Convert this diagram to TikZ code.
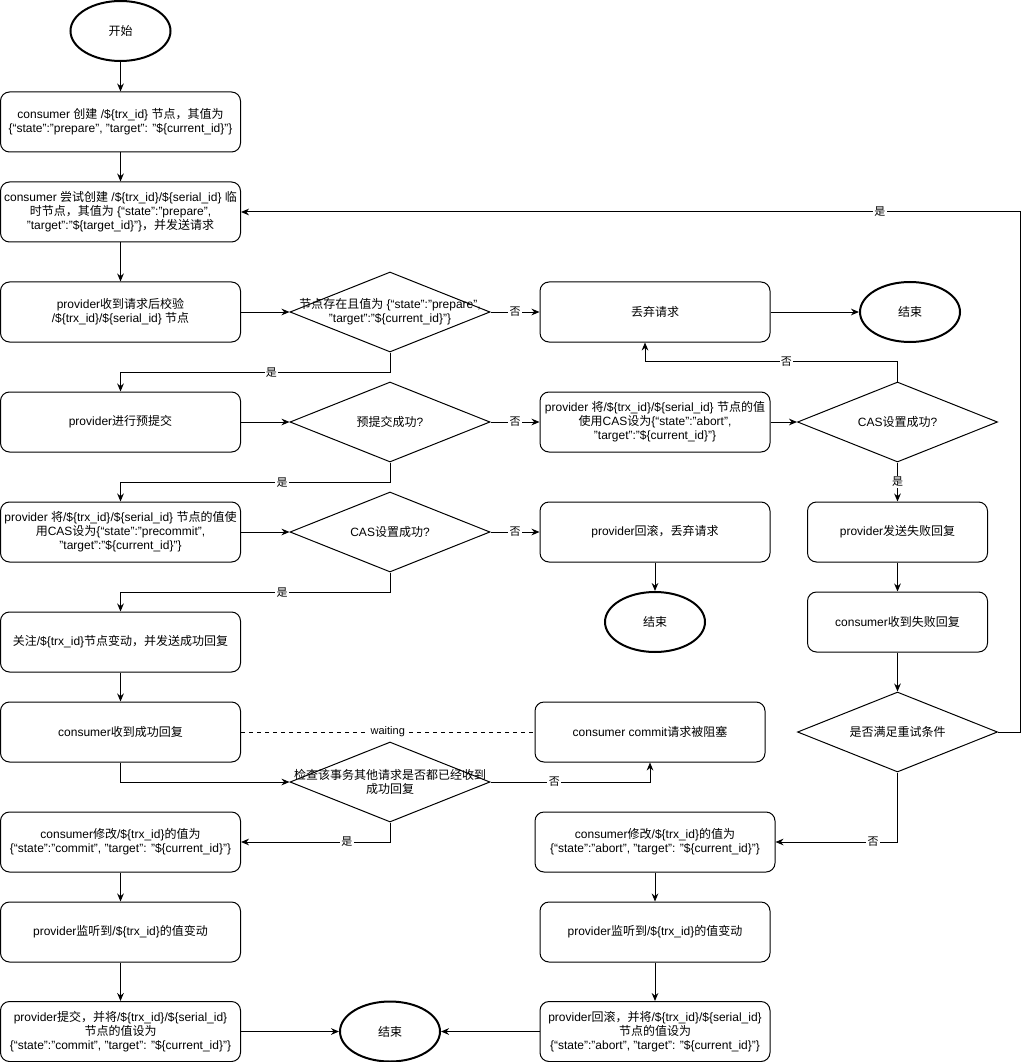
\documentclass[tikz,border=0pt]{standalone}
\usepackage{fontspec}
\setmainfont{Liberation Sans}
\newfontfamily\cjk{Noto Sans CJK SC}
\usetikzlibrary{shapes.geometric,arrows.meta}
\newcommand{\tvar}[1]{\$\{#1\}}
% CJK characters switch to the CJK font
\XeTeXinterchartokenstate=1
\newXeTeXintercharclass\cjkcls
\count255="4E00
\loop\XeTeXcharclass\count255=\cjkcls\ifnum\count255<"9FFF\advance\count255 by 1\repeat
\count255="3000
\loop\XeTeXcharclass\count255=\cjkcls\ifnum\count255<"303F\advance\count255 by 1\repeat
\count255="FF00
\loop\XeTeXcharclass\count255=\cjkcls\ifnum\count255<"FFEF\advance\count255 by 1\repeat
\XeTeXinterchartoks 0 \cjkcls={\cjk}
\XeTeXinterchartoks 4095 \cjkcls={\cjk}
\XeTeXinterchartoks \cjkcls 0={\normalfont}
\XeTeXinterchartoks \cjkcls 4095={\normalfont}

\begin{document}
\begin{tikzpicture}[x=0.75pt,y=-0.75pt,
  font=\fontsize{9}{10.5}\selectfont,
  box/.style={draw,line width=0.75pt,rounded corners=6.75pt,minimum width=180pt,minimum height=45pt,align=center,inner sep=1pt},
  term/.style={draw,ellipse,line width=1.5pt,minimum width=75pt,minimum height=45pt},
  decision/.style={draw,diamond,line width=0.75pt,minimum width=150pt,minimum height=60pt,inner sep=0pt},
  lbl/.style={fill=white,inner sep=1pt,font=\fontsize{8.25}{9}\selectfont},
  arr/.style={draw,line width=0.75pt,-{Stealth[length=6pt,width=5pt]}}]
  \useasboundingbox (0,0) rectangle (1029,1062);
  % left column
  \node[term] (start) at (120.5,31) {开始};
  \node[box] (b1) at (120.5,122) {consumer 创建 /\tvar{trx\_id} 节点，其值为\\\{“state":"prepare", "target": "\tvar{current\_id}"\}};
  \node[box] (b2) at (120.5,212) {consumer 尝试创建 /\tvar{trx\_id}/\tvar{serial\_id} 临\\时节点，其值为 \{“state":"prepare",\\"target":"\tvar{target\_id}"\}，并发送请求};
  \node[box] (b3) at (120.5,312) {provider收到请求后校验\\/\tvar{trx\_id}/\tvar{serial\_id} 节点};
  \node[box] (b4) at (120.5,422) {provider进行预提交};
  \node[box] (b6) at (120.5,532) {provider 将/\tvar{trx\_id}/\tvar{serial\_id} 节点的值使\\用CAS设为\{“state":"precommit",\\"target":"\tvar{current\_id}"\}};
  \node[box] (b8) at (120.5,642) {关注/\tvar{trx\_id}节点变动，并发送成功回复};
  \node[box] (b9) at (120.5,732) {consumer收到成功回复};
  \node[box] (b10) at (120.5,842) {consumer修改/\tvar{trx\_id}的值为\\\{“state":"commit", "target": "\tvar{current\_id}"\}};
  \node[box] (b11) at (120.5,932) {provider监听到/\tvar{trx\_id}的值变动};
  \node[box] (b12) at (120.5,1031.5) {provider提交，并将/\tvar{trx\_id}/\tvar{serial\_id}\\节点的值设为\\\{“state":"commit", "target": "\tvar{current\_id}"\}};
  % decisions
  \node[decision] (d1) at (390,312) {};
  \node[align=center] (d1t) at (d1) {节点存在且值为 \{“state":"prepare",\\"target":"\tvar{current\_id}"\}};
  \node[decision] (d2) at (390,422) {};
  \node (d2t) at (d2) {预提交成功?};
  \node[decision] (d5) at (390,532) {};
  \node (d5t) at (d5) {CAS设置成功?};
  \node[decision] (d6) at (390,782) {};
  \node[align=center] (d6t) at (d6) {检查该事务其他请求是否都已经收到\\成功回复};
  \node[term] (end2) at (390,1031.5) {结束};
  % middle column
  \node[box,minimum width=172.5pt] (drop) at (655,312) {丢弃请求};
  \node[box,minimum width=172.5pt] (b5) at (655,422) {provider 将/\tvar{trx\_id}/\tvar{serial\_id} 节点的值\\使用CAS设为\{“state":"abort",\\"target":"\tvar{current\_id}"\}};
  \node[box,minimum width=172.5pt] (b7) at (655,532) {provider回滚，丢弃请求};
  \node[term] (end3) at (655,622) {结束};
  \node[box,minimum width=172.5pt] (blk) at (650,732) {consumer commit请求被阻塞};
  \node[box] (rb10) at (655,842) {consumer修改/\tvar{trx\_id}的值为\\\{“state":"abort", "target": "\tvar{current\_id}"\}};
  \node[box,minimum width=172.5pt] (rb11) at (655,932) {provider监听到/\tvar{trx\_id}的值变动};
  \node[box,minimum width=172.5pt] (rb12) at (655,1031.5) {provider回滚，并将/\tvar{trx\_id}/\tvar{serial\_id}\\节点的值设为\\\{“state":"abort", "target": "\tvar{current\_id}"\}};
  % right column
  \node[term] (end1) at (910,312) {结束};
  \node[decision] (d3) at (897.5,422) {};
  \node (d3t) at (d3) {CAS设置成功?};
  \node[box,minimum width=135pt] (f1) at (897.5,532) {provider发送失败回复};
  \node[box,minimum width=135pt] (f2) at (897.5,622) {consumer收到失败回复};
  \node[decision] (d4) at (897.5,732) {};
  \node (d4t) at (d4) {是否满足重试条件};
  % straight arrows
  \foreach \a/\b in {start/b1,b1/b2,b2/b3,b8/b9,b10/b11,b11/b12,rb10/rb11,rb11/rb12,b7/end3,f1/f2,f2/d4,
                     b3/d1,b4/d2,b6/d5,b5/d3,drop/end1,b12/end2,rb12/end2}
    \draw[arr] (\a) -- (\b);
  \foreach \a/\b in {d1/drop,d2/b5,d5/b7}
    \draw[arr] (\a) -- node[lbl]{否} (\b);
  \draw[arr] (d3) -- node[lbl]{是} (f1);
  % elbow arrows
  \draw[arr] (d1.south) -- ++(0,20) -| node[lbl,pos=0.22]{是} (b4.north);
  \draw[arr] (d2.south) -- ++(0,20) -| node[lbl,pos=0.2]{是} (b6.north);
  \draw[arr] (d5.south) -- ++(0,20) -| node[lbl,pos=0.2]{是} (b8.north);
  \draw[arr] (d3.north) -- ++(0,-20) -| node[lbl,pos=0.22]{否} ([xshift=-7.5pt]drop.south);
  \draw[arr] (d4.east) -- ++(22,0) |- node[lbl,pos=0.59]{是} (b2.east);
  \draw[arr] (d4.south) |- node[lbl,pos=0.6]{否} (rb10.east);
  \draw[arr] (b9.south) |- (d6.west);
  \draw[arr] (d6.east) -| node[lbl,pos=0.2]{否} (blk.south);
  \draw[arr] (d6.south) |- node[lbl,pos=0.645]{是} (b10.east);
  \draw[dashed,line width=0.75pt] (b9.east) -- node[lbl]{waiting} (blk.west);
\end{tikzpicture}
\end{document}
